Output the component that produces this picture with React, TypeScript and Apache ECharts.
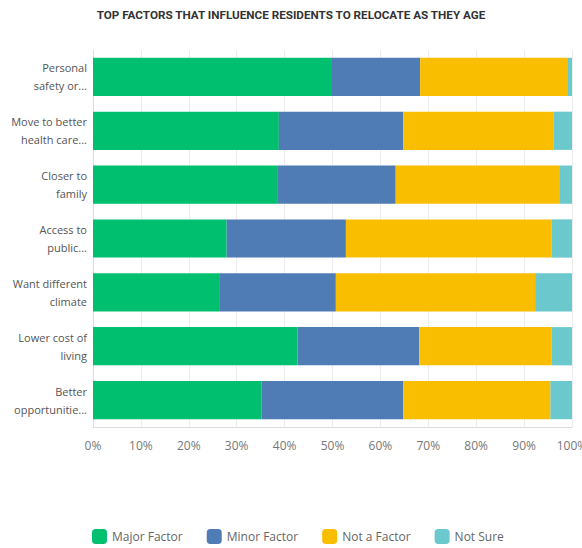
import React, { useEffect, useRef } from "react";
import * as echarts from "echarts";

const categories = [
  "Personal\nsafety or...",
  "Move to better\nhealth care...",
  "Closer to\nfamily",
  "Access to\npublic...",
  "Want different\nclimate",
  "Lower cost of\nliving",
  "Better\nopportunitie...",
];
const seriesNames = ["Major Factor", "Minor Factor", "Not a Factor", "Not Sure"];
const majorFactor = [49.7, 38.8, 38.6, 27.9, 26.5, 42.7, 35.2];
const minorFactor = [18.6, 26.0, 24.6, 24.9, 24.2, 25.4, 29.6];
const notAFactor = [30.7, 31.3, 34.3, 42.9, 41.6, 27.6, 30.7];
const notSure = [1.0, 3.9, 2.5, 4.3, 7.7, 4.3, 4.5];
const colors = ["#00BF6F", "#507CB6", "#F9BE00", "#6BC8CD"];
const xTicks = [0, 10, 20, 30, 40, 50, 60, 70, 80, 90, 100];

export default function App() {
  const ref = useRef<HTMLDivElement>(null);
  useEffect(() => {
    if (!ref.current) return;
    const chart = echarts.init(ref.current, undefined, { renderer: "svg" });
    const values = [majorFactor, minorFactor, notAFactor, notSure];
    chart.setOption({
      animation: false,
      backgroundColor: "#ffffff",
      textStyle: { fontFamily: "Open Sans" },
      title: {
        text: "TOP FACTORS THAT INFLUENCE RESIDENTS TO RELOCATE AS THEY AGE",
        left: "center",
        top: 4,
        textStyle: { fontFamily: "Roboto", fontSize: 11.7, fontWeight: "bold", color: "#333" },
      },
      legend: {
        data: seriesNames,
        top: 524,
        left: 87,
        icon: "roundRect",
        itemWidth: 15,
        itemHeight: 15,
        itemGap: 24,
        textStyle: { fontSize: 12, color: "#666", fontFamily: "Open Sans" },
      },
      grid: {
        left: 93,
        right: 10,
        top: 50,
        bottom: 121,
        containLabel: false,
        outerBoundsMode: "none",
      },
      xAxis: {
        type: "value",
        min: xTicks[0],
        max: xTicks[xTicks.length - 1],
        interval: 10,
        axisLabel: { formatter: "{value}%", color: "#777", fontSize: 12, margin: 12 },
        axisLine: { show: true, lineStyle: { color: "#dddddd" } },
        axisTick: { show: false },
        splitLine: { show: true, lineStyle: { color: "#ececec" } },
      },
      yAxis: {
        type: "category",
        data: categories,
        inverse: true,
        axisLabel: { color: "#555", fontSize: 11, lineHeight: 18, margin: 6, align: "right" },
        axisLine: { show: true, lineStyle: { color: "#dddddd" } },
        axisTick: { show: false },
      },
      series: seriesNames.map((name, i) => ({
        name,
        type: "bar",
        stack: "total",
        data: values[i],
        barCategoryGap: "29%",
        itemStyle: { color: colors[i] },
      })),
    });
    return () => chart.dispose();
  }, []);
  return (
    <div
      ref={ref}
      style={{ position: "fixed", left: 0, top: 0, width: 582, height: 548 }}
    />
  );
}
